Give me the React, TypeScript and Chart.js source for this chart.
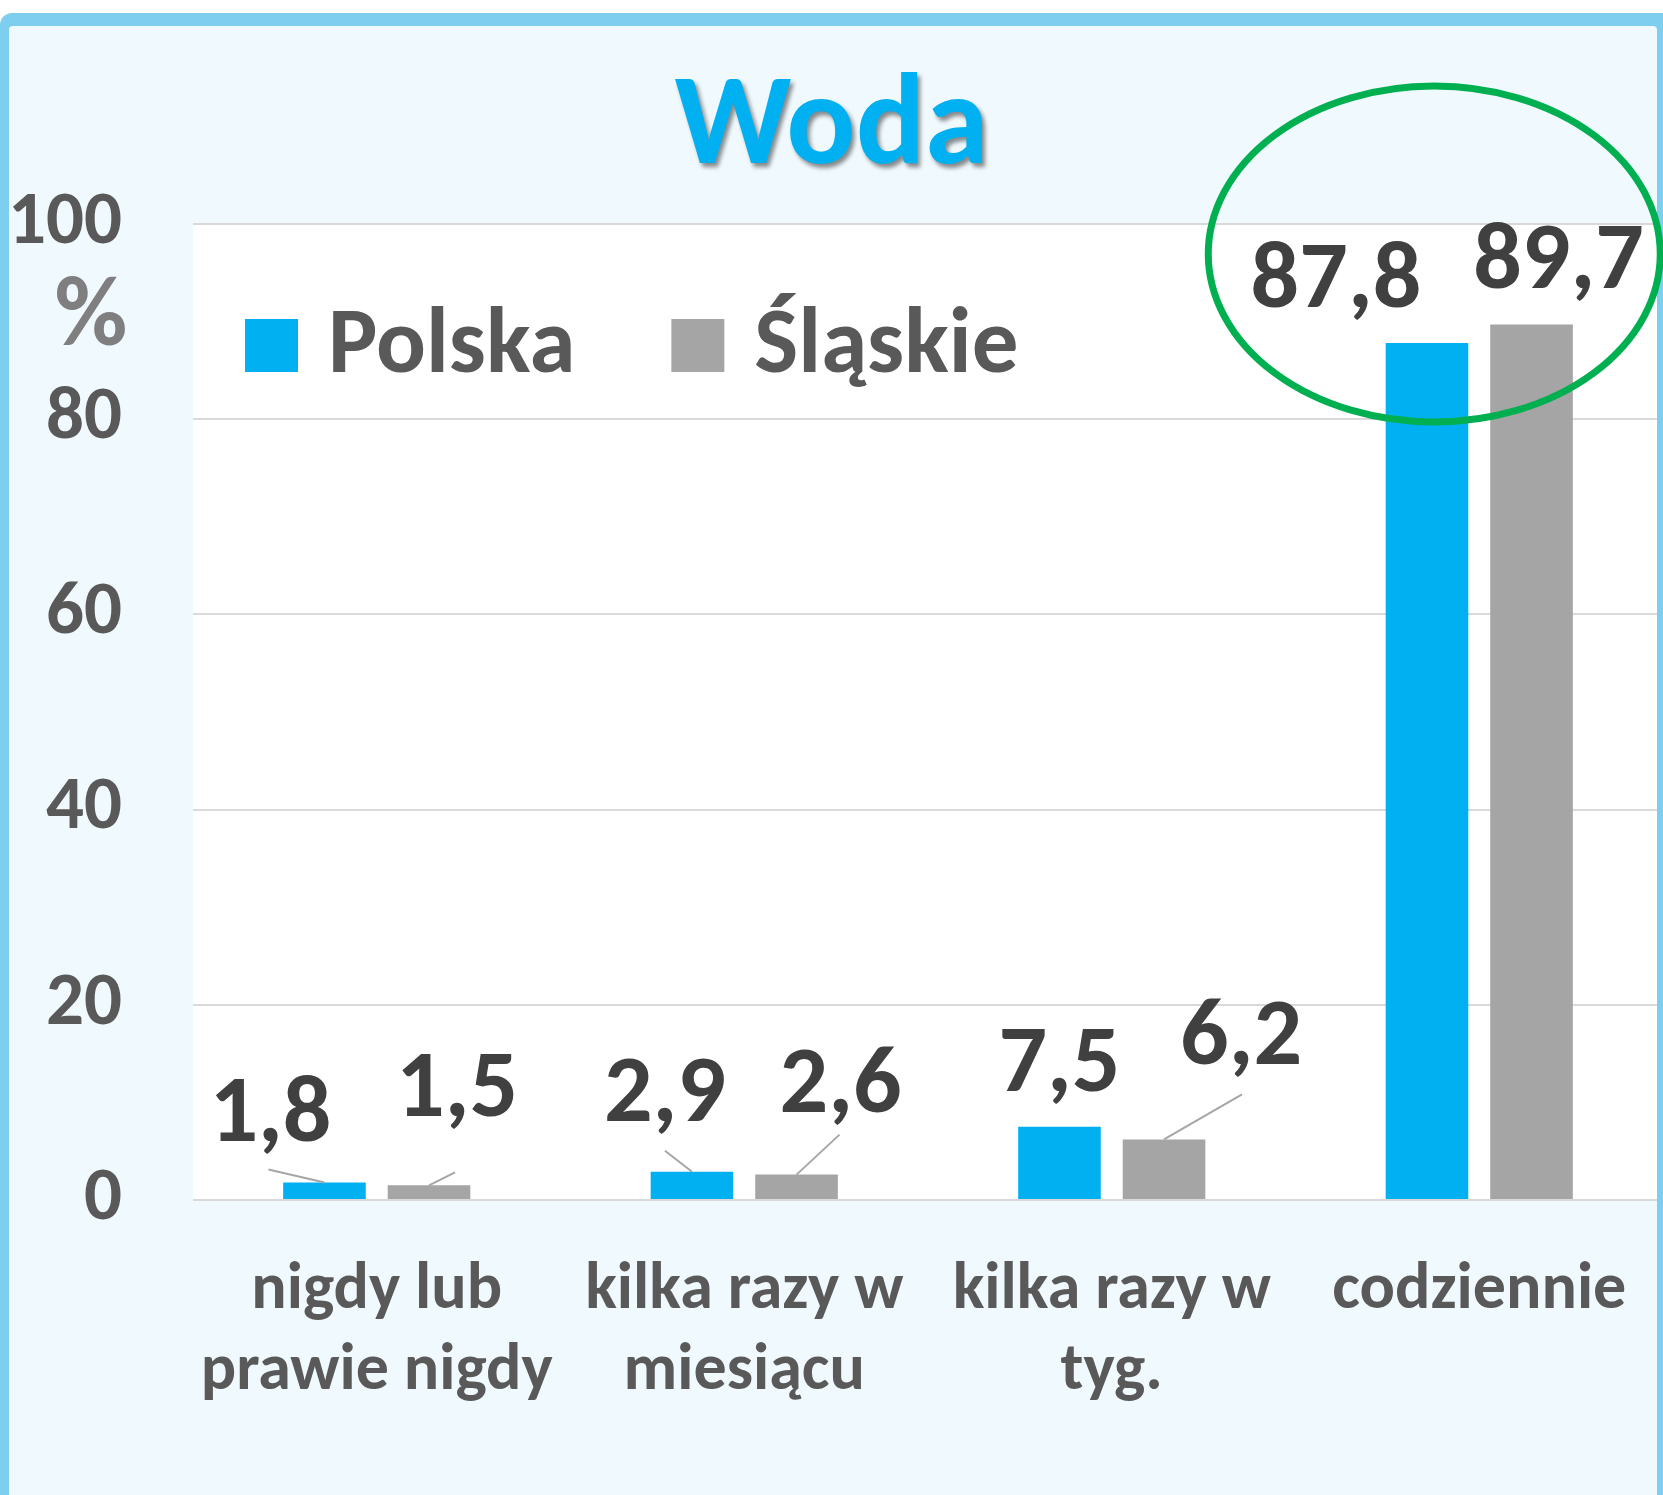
import React, { useEffect, useRef } from "react";
import { Chart, registerables } from "chart.js";

Chart.register(...registerables);

// ---------- data ----------
const TITLE = "Woda";
const CATEGORIES: string[][] = [
  ["nigdy lub", "prawie nigdy"],
  ["kilka razy w", "miesiącu"],
  ["kilka razy w", "tyg."],
  ["codziennie"],
];
const SERIES_NAMES = ["Polska", "Śląskie"];
const POLSKA = [1.8, 2.9, 7.5, 87.8];
const SLASKIE = [1.5, 2.6, 6.2, 89.7];
const Y_TICKS = [0, 20, 40, 60, 80, 100];
const Y_UNIT = "%";
const HIGHLIGHT_CATEGORY = 3;

// ---------- styles ----------
const W = 1663;
const H = 1495;
const FONT = "Carlito, Lato, 'Liberation Sans', sans-serif";
const COLORS = ["#00B0F0", "#A5A5A5"];
const TEXT_DARK = "#404040";
const TEXT_AXIS = "#595959";
const TEXT_UNIT = "#7F7F7F";
const BORDER = "#7ECEF0";
const PANEL = "#F0F9FD";
const GRID = "#D9D9D9";
const LEADER = "#A6A6A6";
const ELLIPSE_COLOR = "#00B050";

// label placement relative to the bar's top centre (dx, baseline dy, optional leader end)
type LabelPos = { dx: number; dy: number; lx?: number; ly?: number };
const LABEL_POS: LabelPos[][] = [
  [
    { dx: -54, dy: -41, lx: -56, ly: -13 },
    { dx: -27, dy: -51, lx: -27, ly: -21 },
    { dx: 0, dy: -36 },
    { dx: -91, dy: -36 },
  ],
  [
    { dx: 28, dy: -69, lx: 26, ly: -13 },
    { dx: 44, dy: -63, lx: 43, ly: -40 },
    { dx: 77, dy: -75, lx: 78, ly: -45 },
    { dx: 27, dy: -37 },
  ],
];

const fmt = (v: number) => v.toFixed(1).replace(".", ",");

const decorPlugin = {
  id: "decor",
  beforeDraw(chart: any) {
    const { ctx, width, height, chartArea } = chart;
    ctx.save();
    ctx.fillStyle = "#FFFFFF";
    ctx.fillRect(0, 0, width, height);
    ctx.fillStyle = BORDER;
    ctx.beginPath();
    ctx.roundRect(0, 13, width + 30, height + 30, 12);
    ctx.fill();
    ctx.fillStyle = PANEL;
    ctx.beginPath();
    ctx.roundRect(9, 26, width - 9 - 6, height, 4);
    ctx.fill();
    ctx.fillStyle = "#FFFFFF";
    ctx.fillRect(
      chartArea.left,
      chartArea.top,
      chartArea.right - chartArea.left,
      chartArea.bottom - chartArea.top
    );
    ctx.restore();
  },
  afterDatasetsDraw(chart: any) {
    const { ctx, width, height } = chart;
    ctx.save();
    // right border band (covers grid ends)
    ctx.fillStyle = BORDER;
    ctx.fillRect(width - 6, 13, 6, height);

    // data labels with leader lines
    chart.data.datasets.forEach((ds: any, di: number) => {
      const meta = chart.getDatasetMeta(di);
      meta.data.forEach((bar: any, i: number) => {
        const pos = LABEL_POS[di][i];
        const x = bar.x;
        const y = bar.y;
        if (pos.lx !== undefined && pos.ly !== undefined) {
          ctx.strokeStyle = LEADER;
          ctx.lineWidth = 2;
          ctx.beginPath();
          ctx.moveTo(x, y);
          ctx.lineTo(x + pos.lx, y + pos.ly);
          ctx.stroke();
        }
        ctx.fillStyle = TEXT_DARK;
        ctx.font = `bold 96px ${FONT}`;
        ctx.textAlign = "center";
        ctx.textBaseline = "alphabetic";
        ctx.fillText(fmt(ds.data[i]), x + pos.dx, y + pos.dy);
      });
    });
    ctx.restore();
  },
  afterDraw(chart: any) {
    const { ctx, width, chartArea, scales } = chart;
    ctx.save();
    // title
    ctx.font = `bold 129px ${FONT}`;
    ctx.textAlign = "center";
    ctx.textBaseline = "alphabetic";
    ctx.shadowColor = "rgba(0,0,0,0.45)";
    ctx.shadowOffsetX = 3;
    ctx.shadowOffsetY = 4;
    ctx.shadowBlur = 4;
    ctx.fillStyle = COLORS[0];
    ctx.fillText(TITLE, width / 2, 163);
    ctx.shadowColor = "transparent";
    ctx.shadowBlur = 0;
    ctx.shadowOffsetX = 0;
    ctx.shadowOffsetY = 0;

    // unit label under top tick
    ctx.font = `bold 100px ${FONT}`;
    ctx.fillStyle = TEXT_UNIT;
    ctx.textAlign = "center";
    ctx.fillText(Y_UNIT, 91, 345);

    // legend inside plot area
    let lx = chartArea.left + 52;
    const box = 53;
    const boxTop = 319;
    ctx.font = `bold 93px ${FONT}`;
    ctx.textAlign = "left";
    chart.data.datasets.forEach((ds: any) => {
      ctx.fillStyle = ds.backgroundColor;
      ctx.fillRect(lx, boxTop, box, box);
      ctx.fillStyle = TEXT_AXIS;
      ctx.fillText(ds.label, lx + box + 30, boxTop + box);
      lx += box + 30 + ctx.measureText(ds.label).width + 96;
    });

    // highlight ellipse
    const cx = scales.x.getPixelForValue(HIGHLIGHT_CATEGORY) - 45;
    const cy = 254;
    ctx.strokeStyle = ELLIPSE_COLOR;
    ctx.lineWidth = 7;
    ctx.beginPath();
    ctx.ellipse(cx, cy, 226, 168, 0, 0, Math.PI * 2);
    ctx.stroke();
    ctx.restore();
  },
};

export default function App() {
  const ref = useRef<HTMLCanvasElement>(null);
  useEffect(() => {
    document.body.style.margin = "0";
    if (!ref.current) return;
    const chart = new Chart(ref.current, {
      type: "bar",
      data: {
        labels: CATEGORIES,
        datasets: [
          { label: SERIES_NAMES[0], data: POLSKA, backgroundColor: COLORS[0] },
          { label: SERIES_NAMES[1], data: SLASKIE, backgroundColor: COLORS[1] },
        ],
      },
      options: {
        responsive: false,
        animation: false,
        devicePixelRatio: 1,
        layout: { padding: { top: 224, left: 0, right: 0, bottom: 0 } },
        datasets: {
          bar: { categoryPercentage: 0.569, barPercentage: 0.79 },
        },
        plugins: {
          legend: { display: false },
          title: { display: false },
          tooltip: { enabled: false },
        },
        scales: {
          x: {
            grid: { display: false, drawTicks: false },
            border: { display: false },
            ticks: {
              color: TEXT_AXIS,
              font: { family: FONT, size: 66, weight: "bold", lineHeight: "81px" },
              padding: 51,
              maxRotation: 0,
              autoSkip: false,
            },
            afterFit: (s: any) => {
              s.height = H - 1200;
              s.paddingLeft = 0;
              s.paddingRight = 0;
            },
          },
          y: {
            min: 0,
            max: 100,
            grid: { color: GRID, lineWidth: 2, drawTicks: false },
            border: { display: false },
            ticks: {
              color: TEXT_AXIS,
              font: { family: FONT, size: 75, weight: "bold" },
              padding: 71,
            },
            afterBuildTicks: (s: any) => {
              s.ticks = Y_TICKS.map((v) => ({ value: v }));
            },
            afterFit: (s: any) => {
              s.width = 193;
              s.paddingTop = 0;
              s.paddingBottom = 0;
            },
          },
        },
      },
      plugins: [decorPlugin],
    });
    return () => chart.destroy();
  }, []);
  return <canvas ref={ref} width={W} height={H} style={{ display: "block" }} />;
}
